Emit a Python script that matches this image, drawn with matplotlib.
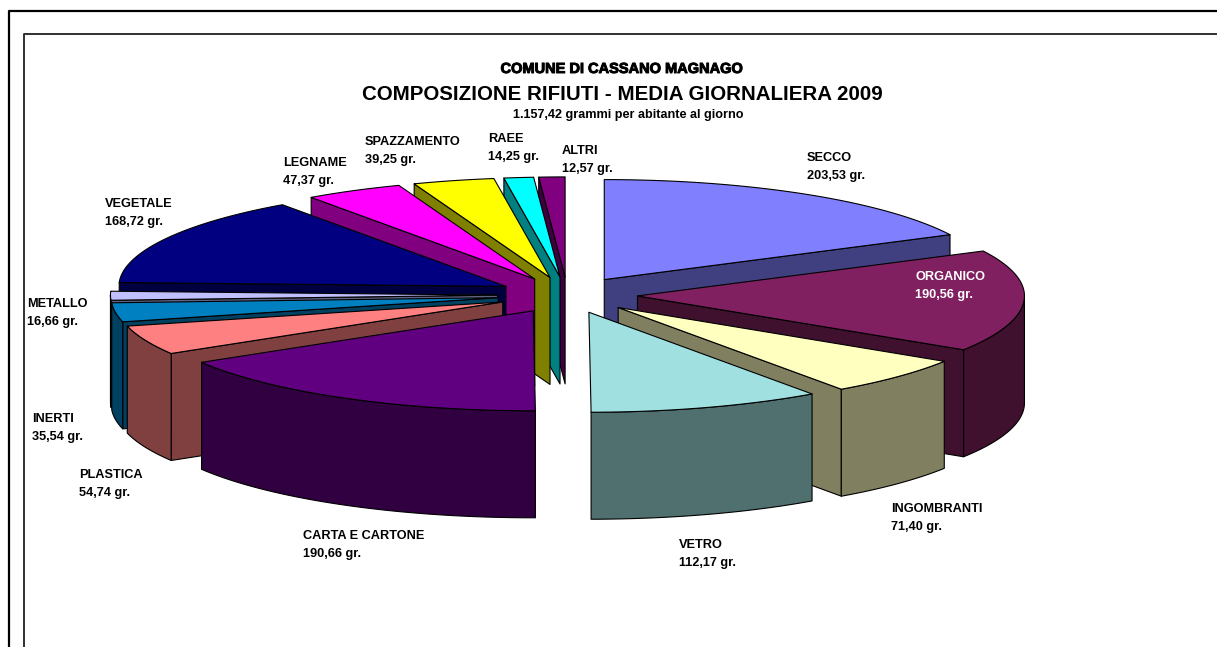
"""
Composizione rifiuti Cassano Magnago 2009 - exploded 3D pie drawn by hand
(matplotlib has no 3D pie, so each slice is a top polygon plus dark walls)
"""

import numpy as np
import matplotlib
matplotlib.use("Agg")
import matplotlib.pyplot as plt
import matplotlib.patheffects as pe
from matplotlib.patches import Polygon

plt.rcParams['font.family'] = ['Liberation Sans', 'DejaVu Sans']

# Data, clockwise from 12 o'clock
categories = ["SECCO", "ORGANICO", "INGOMBRANTI", "VETRO", "CARTA E CARTONE", "PLASTICA", "INERTI",
              "METALLO", "VEGETALE", "LEGNAME", "SPAZZAMENTO", "RAEE", "ALTRI"]
values = [203.53, 190.56, 71.40, 112.17, 190.66, 54.74, 35.54, 16.66, 168.72, 47.37, 39.25, 14.25, 12.57]
top_colors = ["#8080FF", "#802060", "#FFFFC0", "#A0E0E0", "#600080", "#FF8080", "#0080C0",
              "#C0C0FF", "#000080", "#FF00FF", "#FFFF00", "#00FFFF", "#800080"]
wall_colors = ["#404080", "#40102F", "#808060", "#507070", "#300040", "#804040", "#004060",
               "#606080", "#000040", "#800080", "#808000", "#008080", "#400040"]

# Label anchor (left edge, first baseline), in figure pixels
label_x = [807, 915, 891, 679, 303, 79, 32, 27, 105, 283, 365, 488, 562]
label_y = [161, 280, 512, 548, 539, 478, 422, 307, 207, 166, 145, 142, 154]

# Pie geometry in pixels
CX, CY = 567.5, 295
RX, RY = 387, 100
DEPTH = 107
EXPLODE = 0.181

fig = plt.figure(figsize=(12.17, 6.47), dpi=100)
ax = fig.add_axes([0, 0, 1, 1])
ax.set_xlim(0, 1217)
ax.set_ylim(647, 0)
ax.axis("off")

# Page frames, both run off the right and bottom edges
ax.plot([8.5, 8.5, 1217], [647, 10.5, 10.5], color="black", lw=1.6)
ax.plot([24, 24, 1217], [647, 33.5, 33.5], color="#303030", lw=1.4)

total = sum(values)
angles = np.cumsum([0] + values) / total * 2 * np.pi


def rim(x0, y0, a):
    return x0 + RX * np.sin(a), y0 - RY * np.cos(a)


slices = []
for i in range(len(values)):
    a0, a1 = angles[i], angles[i + 1]
    mid = (a0 + a1) / 2
    slices.append((-np.cos(mid), i, a0, a1, mid))

# Back to front
for _, i, a0, a1, mid in sorted(slices):
    x0 = CX + EXPLODE * RX * np.sin(mid)
    y0 = CY - EXPLODE * RY * np.cos(mid)
    style = dict(facecolor=wall_colors[i], edgecolor="black", lw=0.8, joinstyle="round")

    # Cut faces: only the ones turned towards the viewer
    for a, show in ((a0, np.sin(a0) < -0.02), (a1, np.sin(a1) > 0.02)):
        if show:
            x1, y1 = rim(x0, y0, a)
            ax.add_patch(Polygon([(x0, y0), (x1, y1), (x1, y1 + DEPTH), (x0, y0 + DEPTH)], **style))

    # Outer wall, front half only
    b0, b1 = max(a0, np.pi / 2), min(a1, 3 * np.pi / 2)
    if b1 > b0:
        t = np.linspace(b0, b1, 60)
        xs, ys = rim(x0, y0, t)
        pts = list(zip(xs, ys)) + list(zip(xs[::-1], ys[::-1] + DEPTH))
        ax.add_patch(Polygon(pts, **style))

    # Top face
    t = np.linspace(a0, a1, 80)
    xs, ys = rim(x0, y0, t)
    ax.add_patch(Polygon([(x0, y0)] + list(zip(xs, ys)), facecolor=top_colors[i], edgecolor="black",
                         lw=0.8, joinstyle="round"))

# Labels
for i, name in enumerate(categories):
    color = "white" if name == "ORGANICO" else "black"
    ax.text(label_x[i], label_y[i], name, fontsize=9.2, fontweight="bold", color=color, va="baseline")
    ax.text(label_x[i], label_y[i] + 18, f"{values[i]:.2f}".replace(".", ",") + " gr.",
            fontsize=9.2, fontweight="bold", color=color, va="baseline")

# Titles
ax.text(622.5, 73, "COMUNE DI CASSANO MAGNAGO", fontsize=10.5, fontweight="bold", ha="center", va="baseline",
        path_effects=[pe.withStroke(linewidth=0.7, foreground="black")])
ax.text(622, 100, "COMPOSIZIONE RIFIUTI - MEDIA GIORNALIERA 2009", fontsize=14.75, fontweight="bold",
        ha="center", va="baseline")
ax.text(628.5, 118, "1.157,42 grammi per abitante al giorno", fontsize=9.1, fontweight="bold",
        ha="center", va="baseline")

fig.savefig("out.png", dpi=100)
